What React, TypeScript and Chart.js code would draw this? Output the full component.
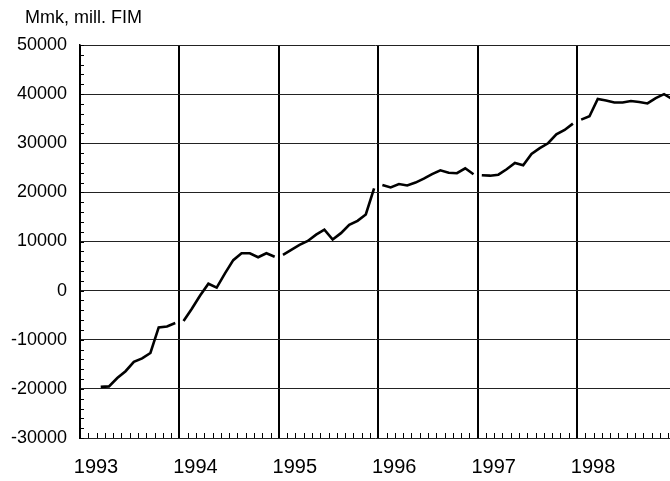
import React, { useEffect, useRef } from "react";
import { Chart, registerables } from "chart.js";

Chart.register(...registerables);

const yearLabels = [1993, 1994, 1995, 1996, 1997, 1998];
const yTickValues = [-30000, -20000, -10000, 0, 10000, 20000, 30000, 40000, 50000];

// Monthly values (Mmk, mill. FIM), Jan..Dec, null = no data
const v1993 = [null, null, -19600, -19500, -17800, -16400, -14500, -13800, -12700, -7500, -7300, -6600];
const v1994 = [-6200, -3700, -1000, 1400, 600, 3500, 6200, 7600, 7600, 6800, 7600, 6900];
const v1995 = [7300, 8300, 9300, 10100, 11400, 12400, 10400, 11700, 13400, 14200, 15500, 20800];
const v1996 = [21500, 21000, 21700, 21400, 22000, 22800, 23700, 24500, 24000, 23900, 24900, 23700];
const v1997 = [23500, 23400, 23600, 24700, 26000, 25500, 27800, 29000, 30000, 31800, 32700, 34000];
const v1998 = [34800, 35500, 39000, 38700, 38300, 38300, 38600, 38400, 38100, 39200, 40000, 39000];

const seriesByYear = [v1993, v1994, v1995, v1996, v1997, v1998];

const FONT = "'Liberation Sans', Arial, Helvetica, sans-serif";

const decorPlugin = {
  id: "decor",
  afterDraw(chart: any) {
    const { ctx, chartArea, scales } = chart;
    const x = scales.x;
    const y = scales.y;
    ctx.save();
    ctx.strokeStyle = "#000";
    ctx.lineWidth = 1;
    // y minor ticks
    for (let v = -30000; v <= 50000; v += 2000) {
      const py = Math.round(y.getPixelForValue(v)) + 0.5;
      ctx.beginPath();
      ctx.moveTo(chartArea.left, py);
      ctx.lineTo(chartArea.left + 4, py);
      ctx.stroke();
    }
    // x minor (monthly) ticks
    yearLabels.forEach((yr) => {
      for (let m = 1; m < 12; m++) {
        const px = Math.round(x.getPixelForValue(yr + m / 12)) + 0.5;
        if (px > chartArea.right) continue;
        ctx.beginPath();
        ctx.moveTo(px, chartArea.bottom);
        ctx.lineTo(px, chartArea.bottom - 5);
        ctx.stroke();
      }
    });
    // unit title
    ctx.fillStyle = "#000";
    ctx.font = `18px ${FONT}`;
    ctx.textAlign = "left";
    ctx.textBaseline = "alphabetic";
    ctx.fillText("Mmk, mill. FIM", 25, 23);
    ctx.restore();
  },
};

export default function App() {
  const ref = useRef<HTMLCanvasElement | null>(null);

  useEffect(() => {
    if (!ref.current) return;
    const datasets = seriesByYear.map((vals, i) => ({
      label: String(yearLabels[i]),
      data: vals
        .map((v, m) => (v === null ? null : { x: yearLabels[i] + (m + 0.5) / 12, y: v }))
        .filter((p) => p !== null),
      borderColor: "#000",
      borderWidth: 2.6,
      pointRadius: 0,
      tension: 0,
      fill: false,
    }));

    const chart = new Chart(ref.current, {
      type: "line",
      data: { datasets: datasets as any },
      options: {
        animation: false,
        responsive: false,
        layout: { padding: { top: 45, left: 0, right: 0, bottom: 0 } },
        plugins: { legend: { display: false }, tooltip: { enabled: false }, title: { display: false } },
        scales: {
          x: {
            type: "linear",
            min: 1993,
            max: 1998.935,
            afterFit: (s: any) => {
              s.height = 43;
            },
            afterBuildTicks: (s: any) => {
              s.ticks = yearLabels.map((v) => ({ value: v }));
            },
            ticks: {
              autoSkip: false,
              maxRotation: 0,
              padding: 17,
              labelOffset: 16,
              color: "#000",
              font: { family: FONT, size: 20 },
              callback: (v: any) => String(v),
            },
            grid: { color: "#000", lineWidth: 2, drawTicks: false },
            border: { display: false },
          },
          y: {
            type: "linear",
            min: -30000,
            max: 50000,
            afterFit: (s: any) => {
              s.width = 80;
            },
            afterBuildTicks: (s: any) => {
              s.ticks = yTickValues.map((v) => ({ value: v }));
            },
            ticks: {
              padding: 13,
              color: "#000",
              font: { family: FONT, size: 18 },
              callback: (v: any) => String(v),
            },
            grid: { color: "#222", lineWidth: 1, drawTicks: false },
            border: { display: true, color: "#000", width: 1.5 },
          },
        },
      },
      plugins: [decorPlugin],
    });
    return () => chart.destroy();
  }, []);

  return (
    <div style={{ position: "absolute", left: 0, top: 0, width: 670, height: 481, background: "#fff" }}>
      <canvas ref={ref} width={670} height={481} style={{ display: "block" }} />
    </div>
  );
}
